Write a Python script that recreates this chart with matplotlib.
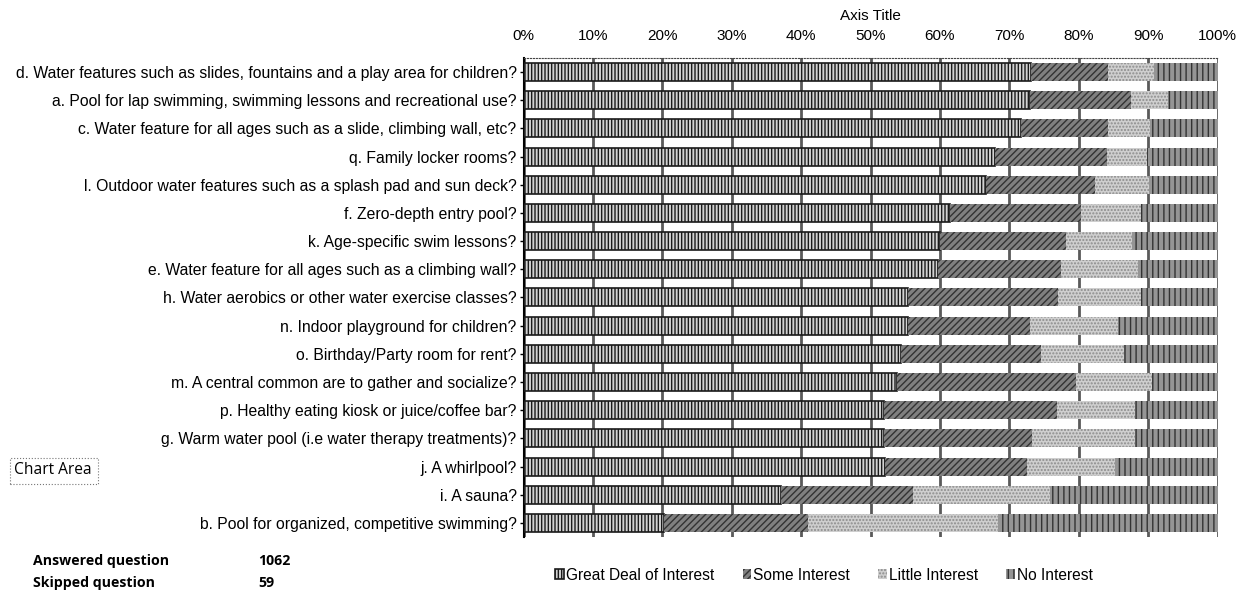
import numpy as np
import matplotlib.pyplot as plt
from matplotlib.patches import Rectangle

plt.rcParams['font.family'] = ['Liberation Sans', 'DejaVu Sans']

# preguntas, de arriba hacia abajo
questions = [
    "d. Water features such as slides, fountains and a play area for children?",
    "a. Pool for lap swimming, swimming lessons and recreational use?",
    "c. Water feature for all ages such as a slide, climbing wall, etc?",
    "q. Family locker rooms?",
    "l. Outdoor water features such as a splash pad and sun deck?",
    "f. Zero-depth entry pool?",
    "k. Age-specific swim lessons?",
    "e. Water feature for all ages such as a climbing wall?",
    "h. Water aerobics or other water exercise classes?",
    "n. Indoor playground for children?",
    "o. Birthday/Party room for rent?",
    "m. A central common are to gather and socialize?",
    "p. Healthy eating kiosk or juice/coffee bar?",
    "g. Warm water pool (i.e water therapy treatments)?",
    "j. A whirlpool?",
    "i. A sauna?",
    "b. Pool for organized, competitive swimming?",
]
great = [73.1, 72.9, 71.7, 67.9, 66.7, 61.5, 60.0, 59.7, 55.4, 55.4, 54.4, 53.8, 51.9, 51.9, 52.1, 37.1, 20.3]
some = [11.1, 14.6, 12.5, 16.1, 15.6, 18.8, 18.2, 17.8, 21.6, 17.5, 20.2, 25.8, 25.0, 21.4, 20.4, 19.0, 20.7]
little = [6.7, 5.3, 6.1, 5.8, 7.8, 8.7, 9.5, 11.0, 11.9, 12.8, 11.9, 10.9, 11.2, 14.8, 12.7, 19.8, 27.4]
none_ = [9.1, 7.2, 9.7, 10.2, 9.9, 11.0, 12.3, 11.5, 11.1, 14.3, 13.5, 9.5, 11.9, 11.9, 14.8, 24.1, 31.6]

series = ["Great Deal of Interest", "Some Interest", "Little Interest", "No Interest"]
ticks = ["0%", "10%", "20%", "30%", "40%", "50%", "60%", "70%", "80%", "90%", "100%"]

fig = plt.figure(figsize=(12.45, 6.04), dpi=100)
ax = fig.add_axes([0.4205, 0.111, 0.5575, 0.793])

y = np.arange(len(questions))
estilos = [
    dict(color='#d2d2d2', edgecolor='#1a1a1a', hatch='|||||', linewidth=1.2),
    dict(color='#808080', edgecolor='#333333', hatch='/////', linewidth=0),
    dict(color='#cfcfcf', edgecolor='#8c8c8c', hatch='.....', linewidth=0),
    dict(color='#959595', edgecolor='#333333', hatch='|||', linewidth=0),
]
left = np.zeros(len(questions))
for datos, nombre, st in zip([great, some, little, none_], series, estilos):
    datos = np.array(datos)
    ax.barh(y, datos, left=left, height=0.64, label=nombre, zorder=3,
            facecolor=st['color'], edgecolor=st['edgecolor'],
            hatch=st['hatch'], linewidth=st['linewidth'])
    left = left + datos

ax.set_xlim(0, 100)
ax.set_ylim(len(questions) - 0.5, -0.5)
ax.set_xticks(np.arange(0, 101, 10))
ax.set_xticklabels(ticks, fontsize=11)
ax.xaxis.tick_top()
ax.xaxis.set_label_position('top')
ax.set_xlabel("Axis Title", fontsize=11, labelpad=6)
ax.tick_params(axis='x', length=0, pad=11)
ax.set_yticks(y)
ax.set_yticklabels(questions, fontsize=11.3)
ax.tick_params(axis='y', length=3, width=1, pad=2)
ax.xaxis.grid(True, color='#5a5a5a', linewidth=2, zorder=0)
for s in ['right', 'bottom']:
    ax.spines[s].set_visible(False)
ax.spines['top'].set_linestyle(':')
ax.spines['top'].set_color('#444444')
ax.spines['left'].set_linewidth(1.5)

fig.legend(loc='center', bbox_to_anchor=(0.662, 0.048), ncol=4, frameon=False,
           fontsize=11.2, handlelength=0.55, handleheight=0.55, handletextpad=0.15,
           columnspacing=1.8)

# recuadro "Chart Area"
fig.patches.append(Rectangle((10 / 1245, 1 - 484 / 604), 88 / 1245, 26 / 604,
                             transform=fig.transFigure, fill=False,
                             linestyle=':', edgecolor='#777777', linewidth=0.8))
fig.text(14 / 1245, 1 - 470 / 604, "Chart Area", fontsize=11.2, family='Open Sans',
         va='center', ha='left')

fig.text(33 / 1245, 1 - 561 / 604, "Answered question", fontsize=10.2, weight='bold',
         family='Open Sans', va='center')
fig.text(258 / 1245, 1 - 561 / 604, "1062", fontsize=10.2, weight='bold',
         family='Open Sans', va='center')
fig.text(33 / 1245, 1 - 583 / 604, "Skipped question", fontsize=10.2, weight='bold',
         family='Open Sans', va='center')
fig.text(258 / 1245, 1 - 583 / 604, "59", fontsize=10.2, weight='bold',
         family='Open Sans', va='center')

fig.savefig("out.png", dpi=100)
